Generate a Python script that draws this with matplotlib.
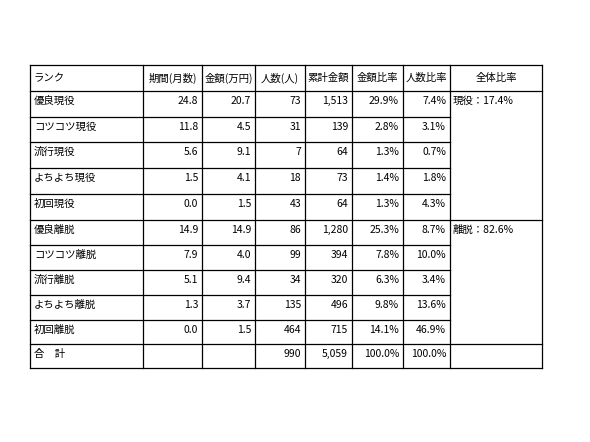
import matplotlib.pyplot as plt

plt.rcParams['font.family'] = ['Noto Sans CJK JP', 'DejaVu Sans']

headers = ['ランク', '期間(月数)', '金額(万円)', '人数(人)', '累計金額', '金額比率', '人数比率', '全体比率']
ranks = ['優良現役', 'コツコツ現役', '流行現役', 'よちよち現役', '初回現役',
         '優良離脱', 'コツコツ離脱', '流行離脱', 'よちよち離脱', '初回離脱']
period = ['24.8', '11.8', '5.6', '1.5', '0.0', '14.9', '7.9', '5.1', '1.3', '0.0']
amount = ['20.7', '4.5', '9.1', '4.1', '1.5', '14.9', '4.0', '9.4', '3.7', '1.5']
people = ['73', '31', '7', '18', '43', '86', '99', '34', '135', '464']
cumulative = ['1,513', '139', '64', '73', '64', '1,280', '394', '320', '496', '715']
amount_ratio = ['29.9%', '2.8%', '1.3%', '1.4%', '1.3%', '25.3%', '7.8%', '6.3%', '9.8%', '14.1%']
people_ratio = ['7.4%', '3.1%', '0.7%', '1.8%', '4.3%', '8.7%', '10.0%', '3.4%', '13.6%', '46.9%']
overall = ['現役：17.4%', '離脱：82.6%']
total = ['合　計', '', '', '990', '5,059', '100.0%', '100.0%', '']

# layout in pixels
xs = [30, 143, 202, 255, 305, 352, 403, 450, 542]
ys = [65, 91, 117, 142, 168, 194, 220, 245, 270, 295, 320, 344, 368]

fig = plt.figure(figsize=(5.9, 4.42), dpi=100)
ax = fig.add_axes([0, 0, 1, 1])
ax.set_xlim(0, 590)
ax.set_ylim(442, 0)
ax.axis('off')

lw = 0.9
for x in xs:
    ax.plot([x, x], [ys[0], ys[-1]], color='black', lw=lw)
for i, y in enumerate(ys):
    if i in (0, 1, 6, 11, 12):
        ax.plot([xs[0], xs[-1]], [y, y], color='black', lw=lw)
    else:
        ax.plot([xs[0], xs[-2]], [y, y], color='black', lw=lw)

fs = 7.5
for j, h in enumerate(headers):
    ym = (ys[0] + ys[1]) / 2
    if j == 0:
        ax.text(xs[0] + 4, ym, h, fontsize=fs, va='center', ha='left')
    else:
        ax.text((xs[j] + xs[j + 1]) / 2, ym, h, fontsize=fs, va='center', ha='center')

cols = [period, amount, people, cumulative, amount_ratio, people_ratio]
for i, r in enumerate(ranks):
    yt = ys[i + 1] + 10
    ax.text(xs[0] + 4, yt, r, fontsize=fs, va='center', ha='left')
    for j, col in enumerate(cols):
        ax.text(xs[j + 2] - 4, yt, col[i], fontsize=fs, va='center', ha='right')

ax.text(xs[7] + 3, ys[1] + 10, overall[0], fontsize=fs, va='center', ha='left')
ax.text(xs[7] + 3, ys[6] + 10, overall[1], fontsize=fs, va='center', ha='left')

yt = ys[11] + 10
ax.text(xs[0] + 4, yt, total[0], fontsize=fs, va='center', ha='left')
for j in range(1, 8):
    if total[j]:
        ax.text(xs[j + 1] - 4, yt, total[j], fontsize=fs, va='center', ha='right')

fig.savefig('out.png', dpi=100)
